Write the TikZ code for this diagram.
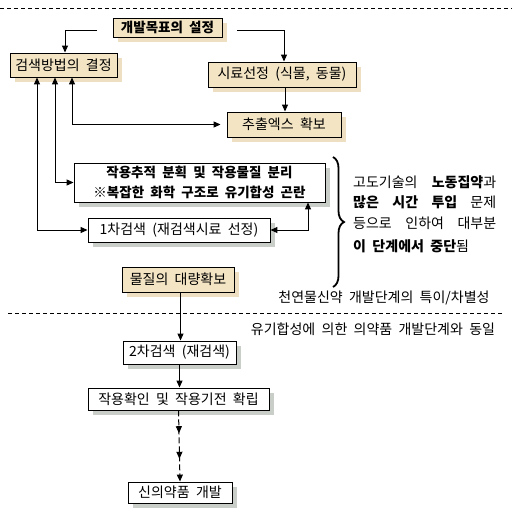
\documentclass[tikz,border=0pt]{standalone}
\usepackage{fontspec}
\setmainfont{Noto Sans CJK KR}[WordSpace=2.0,BoldFont={Noto Sans CJK KR Black}]
\usetikzlibrary{arrows.meta,shadows,decorations.pathreplacing,decorations.markings}
\definecolor{kfill}{HTML}{F3E4C4}
\definecolor{kshadow}{HTML}{EEDFC2}
\definecolor{gshadow}{HTML}{C9CEC9}
\begin{document}
\begin{tikzpicture}[x=1pt,y=-1pt,
  box/.style={draw=black,line width=0.9pt,inner sep=0pt,font=\fontsize{14}{16}\selectfont},
  tanbox/.style={box,fill=kfill,general shadow={fill=kshadow,shadow xshift=5pt,shadow yshift=-5pt}},
  whitebox/.style={box,fill=white,general shadow={fill=gshadow,shadow xshift=5pt,shadow yshift=-5pt}},
  arr/.style={line width=1pt,-{Triangle[length=7pt,width=6pt]}},
  darr/.style={line width=1pt,{Triangle[length=7pt,width=6pt]}-{Triangle[length=7pt,width=6pt]}},
  sep/.style={line width=0.7pt,dash pattern=on 4pt off 3pt},
  lbl/.style={inner sep=0pt,font=\fontsize{14}{16}\selectfont}]
\useasboundingbox (0,0) rectangle (512,512);

% separators
\draw[sep] (0,8) -- (512,8);
\draw[sep] (8,313) -- (502,313);

% boxes
\node[tanbox,minimum width=109pt,minimum height=19pt,font=\bfseries\fontsize{13.5}{15}\selectfont] (goal) at (167.5,27.5) {개발목표의 설정};
\node[tanbox,minimum width=107pt,minimum height=24pt] (method) at (63.5,65) {검색방법의 결정};
\node[tanbox,minimum width=148pt,minimum height=25pt] (sample) at (282,74.5) {시료선정 (식물, 동물)};
\node[tanbox,minimum width=114pt,minimum height=25pt] (extract) at (284,124.5) {추출엑스 확보};
\node[whitebox,minimum width=251pt,minimum height=39pt,align=center,font=\bfseries\fontsize{13.5}{20}\selectfont] (trace) at (199.5,182.5) {작용추적 분획 및 작용물질 분리\\※복잡한 화학 구조로 유기합성 곤란};
\node[whitebox,minimum width=182pt,minimum height=24pt] (first) at (179,230) {1차검색 (재검색시료 선정)};
\node[tanbox,minimum width=112pt,minimum height=25pt] (mass) at (178,279.5) {물질의 대량확보};
\node[whitebox,minimum width=113pt,minimum height=23pt] (second) at (179.5,352.5) {2차검색 (재검색)};
\node[whitebox,minimum width=181pt,minimum height=22pt] (confirm) at (178.5,399) {작용확인 및 작용기전 확립};
\node[whitebox,minimum width=104pt,minimum height=21pt] (newdrug) at (180,492.5) {신의약품 개발};

% connectors from goal
\coordinate (gl) at (97,30);
\coordinate (gr) at (237,30);
\draw[arr] (gl) -| ([xshift=1.5pt]method.north);
\draw[arr] (gr) -| ([xshift=2pt]sample.north);
\draw[arr] ([xshift=3pt]sample.south) -- ([xshift=1pt]extract.north);

% left feedback lines
\draw[darr,shorten >=6pt] ([xshift=8.5pt]method.south) |- (extract.west);
\draw[darr] ([xshift=-8.5pt]method.south) |- (trace.west);
\draw[darr] ([xshift=-26.5pt]method.south) |- (first.west);
\draw[darr] (first.east) -| ([xshift=108.5pt]trace.south);

% main flow
\draw[arr] ([xshift=2.5pt]mass.south) -- ([xshift=1pt]second.north);
\draw[arr] (second.south) -- (second.south |- confirm.north);
\draw[line width=1pt,dash pattern=on 6pt off 3pt,-{Triangle[length=7pt,width=6pt]},
  postaction={decorate},
  decoration={markings,
    mark=at position 0.32 with {\arrow{Triangle[length=7pt,width=6pt]}},
    mark=at position 0.68 with {\arrow{Triangle[length=7pt,width=6pt]}}}]
  (confirm.south) -- (newdrug.north);

% brace and notes
\draw[line width=1.8pt,decorate,decoration={brace,amplitude=11pt}] (333,157) -- (333,287);
\node[lbl,anchor=west] (n1) at (353,182) {\makebox[143pt][s]{고도기술의 \textbf{노동집약}과}};
\node[lbl,anchor=west] (n2) at (353,202) {\makebox[143pt][s]{\textbf{많은 시간 투입} 문제}};
\node[lbl,anchor=west] (n3) at (353,223) {\makebox[143pt][s]{등으로 인하여 대부분}};
\node[lbl,anchor=west] (n4) at (353,246) {\textbf{이 단계에서 중단}됨};
\node[lbl] (t1) at (384,298) {천연물신약 개발단계의 특이/차별성};
\node[lbl] (t2) at (373,329) {유기합성에 의한 의약품 개발단계와 동일};
\end{tikzpicture}
\end{document}
